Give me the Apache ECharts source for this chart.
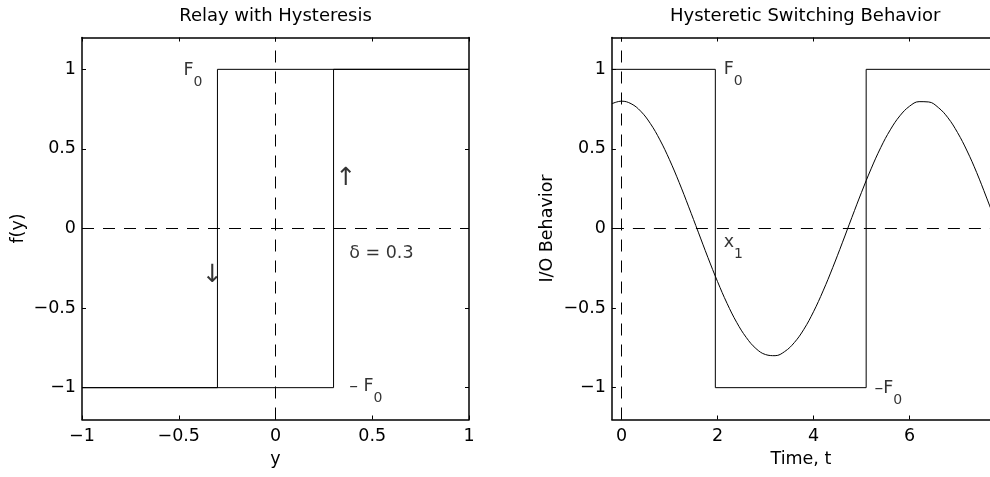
<!DOCTYPE html>
<html>
<head>
<meta charset="utf-8">
<script src="https://cdn.jsdelivr.net/npm/echarts@6/dist/echarts.min.js"></script>
<style>
  html, body { margin: 0; padding: 0; background: #fff; }
  #chart { width: 990px; height: 477px; }
</style>
</head>
<body>
<div id="chart"></div>
<script>
// ---------- data ----------
const leftTitle = 'Relay with Hysteresis';
const rightTitle = 'Hysteretic Switching Behavior';
const leftXName = 'y';
const leftYName = 'f(y)';
const rightXName = 'Time, t';
const rightYName = 'I/O Behavior';

const leftXRange = [-1, 1];
const leftYRange = [-1.2, 1.2];
const rightXRange = [-0.2, 7.677];
const rightYRange = [-1.2, 1.2];

const leftXTicks = [-1, -0.5, 0, 0.5, 1];
const leftYTicks = [-1, -0.5, 0, 0.5, 1];
const rightXTicks = [0, 2, 4, 6];
const rightYTicks = [-1, -0.5, 0, 0.5, 1];

// relay characteristic (hysteresis width delta = 0.3, F0 = 1)
const relayUpPath = [[-1, -1], [0.3, -1], [0.3, 1], [1, 1]];
const relayDownPath = [[1, 1], [-0.3, 1], [-0.3, -1], [-1, -1]];

// switching output over time
const squareWave = [[-0.2, 1], [1.955, 1], [1.955, -1], [5.097, -1], [5.097, 1], [7.9, 1]];

// input signal
const inputTime = [-0.2, 0, 0.2, 0.4, 0.6, 0.8, 1.0, 1.2, 1.4, 1.6, 1.8, 2.0, 2.2, 2.4, 2.6, 2.8, 3.0,
  3.2, 3.4, 3.6, 3.8, 4.0, 4.2, 4.4, 4.6, 4.8, 5.0, 5.2, 5.4, 5.6, 5.8, 6.0, 6.2, 6.4, 6.6, 6.8,
  7.0, 7.2, 7.4, 7.6, 7.8];
const inputValue = [0.784, 0.800, 0.784, 0.737, 0.660, 0.557, 0.432, 0.290, 0.136, -0.023, -0.182,
  -0.333, -0.471, -0.590, -0.685, -0.754, -0.792, -0.799, -0.773, -0.717, -0.633, -0.523, -0.392,
  -0.246, -0.090, 0.070, 0.227, 0.375, 0.508, 0.620, 0.708, 0.768, 0.797, 0.795, 0.760, 0.696,
  0.603, 0.487, 0.351, 0.198, 0.040];

// annotations: [main text, subscript, x, y]
const leftNotes = [
  ['F', '0', -0.476, 0.92],
  ['\u2013 F', '0', 0.381, -1.067],
  ['\u03B4 = 0.3', '', 0.381, -0.154]
];
const leftArrows = [
  ['\u2191', 0.364, 0.312],
  ['\u2193', -0.326, -0.296]
];
const rightNotes = [
  ['F', '0', 2.13, 0.924],
  ['x', '1', 2.13, -0.164],
  ['\u2013F', '0', 5.27, -1.08]
];

// ---------- chart ----------
const FONT = 'DejaVu Sans';
const FS = 17.5;
const BLACK = '#000';

const grids = [
  { left: 82, top: 37.5, width: 387, height: 382 },
  { left: 611.9, top: 37.5, width: 378.1, height: 382 }
];

function fmt(v) {
  return String(v).replace('-', '\u2212');
}

function makeAxis(gridIndex, range, ticks, position, showLabels, name, isY, hidden) {
  const ax = {
    type: 'value',
    gridIndex: gridIndex,
    min: range[0],
    max: range[1],
    position: position,
    show: !hidden,
    axisLine: { show: true, onZero: false, lineStyle: { color: BLACK, width: 1.5 } },
    axisTick: { show: true, inside: true, length: 4, customValues: ticks, lineStyle: { color: BLACK, width: 1 } },
    axisLabel: {
      show: showLabels, customValues: ticks, formatter: fmt,
      fontFamily: FONT, fontSize: FS, color: BLACK, margin: isY ? 6 : 8
    },
    splitLine: { show: false }
  };
  if (name) {
    ax.name = name;
    ax.nameLocation = 'middle';
    ax.nameTextStyle = { fontFamily: FONT, fontSize: FS, color: BLACK };
    if (isY) { ax.nameRotate = 90; ax.nameGap = 55; } else { ax.nameGap = 30; }
  }
  return ax;
}

const xAxes = [
  makeAxis(0, leftXRange, leftXTicks, 'bottom', true, leftXName, false),
  makeAxis(0, leftXRange, leftXTicks, 'top', false, null, false),
  makeAxis(1, rightXRange, rightXTicks, 'bottom', true, rightXName, false),
  makeAxis(1, rightXRange, rightXTicks, 'top', false, null, false)
];
const yAxes = [
  makeAxis(0, leftYRange, leftYTicks, 'left', true, leftYName, true),
  makeAxis(0, leftYRange, leftYTicks, 'right', false, null, true),
  makeAxis(1, rightYRange, rightYTicks, 'left', true, rightYName, true),
  makeAxis(1, rightYRange, rightYTicks, 'right', false, null, true, true)
];

function lineSeries(xi, yi, data, dashed, smooth) {
  return {
    type: 'line', xAxisIndex: xi, yAxisIndex: yi, data: data,
    showSymbol: false, symbol: 'none', smooth: smooth ? 0.4 : false, silent: true, animation: false,
    lineStyle: { color: BLACK, width: 1, type: dashed ? [12, 9] : 'solid' },
    clip: true
  };
}

const richStyle = {
  m: { fontFamily: FONT, fontSize: FS, color: BLACK, lineHeight: 20, verticalAlign: 'top' },
  s: { fontFamily: FONT, fontSize: 14, color: BLACK, lineHeight: 42 }
};

function noteSeries(xi, yi, notes) {
  return {
    type: 'scatter', xAxisIndex: xi, yAxisIndex: yi, symbolSize: 0, silent: true, animation: false,
    data: notes.map(n => ({
      value: [n[2], n[3]],
      label: {
        show: true, position: 'inside', align: 'left', verticalAlign: 'middle',
        formatter: n[1] ? '{m|' + n[0] + '}{s|' + n[1] + '}' : n[0],
        rich: n[1] ? richStyle : undefined,
        fontFamily: FONT, fontSize: FS, color: BLACK
      }
    }))
  };
}

function arrowSeries(xi, yi, arrows) {
  return {
    type: 'scatter', xAxisIndex: xi, yAxisIndex: yi, symbolSize: 0, silent: true, animation: false,
    data: arrows.map(a => ({
      value: [a[1], a[2]],
      label: {
        show: true, position: 'inside', align: 'center', verticalAlign: 'middle',
        formatter: a[0], fontFamily: FONT, fontSize: 25, color: BLACK
      }
    }))
  };
}

const series = [
  // left panel
  lineSeries(0, 0, [[leftXRange[0], 0], [leftXRange[1], 0]], true),
  lineSeries(0, 0, [[0, leftYRange[0]], [0, leftYRange[1]]], true),
  lineSeries(0, 0, relayUpPath, false),
  lineSeries(0, 0, relayDownPath, false),
  noteSeries(0, 0, leftNotes),
  arrowSeries(0, 0, leftArrows),
  // right panel
  lineSeries(2, 2, [[rightXRange[0], 0], [rightXRange[1], 0]], true),
  lineSeries(2, 2, [[0, rightYRange[0]], [0, rightYRange[1]]], true),
  lineSeries(2, 2, squareWave, false),
  lineSeries(2, 2, inputTime.map((t, i) => [t, inputValue[i]]), false, true),
  noteSeries(2, 2, rightNotes)
];

const chart = echarts.init(document.getElementById('chart'), null, { renderer: 'canvas' });
chart.setOption({
  backgroundColor: '#fff',
  animation: false,
  grid: grids,
  xAxis: xAxes,
  yAxis: yAxes,
  series: series,
  graphic: [
    { type: 'text', x: 275.5, y: 16.5, style: { text: leftTitle, font: '18px "DejaVu Sans"', fill: BLACK, align: 'center', verticalAlign: 'middle' } },
    { type: 'text', x: 805.2, y: 16.5, style: { text: rightTitle, font: '18px "DejaVu Sans"', fill: BLACK, align: 'center', verticalAlign: 'middle' } }
  ]
});
</script>
</body>
</html>
